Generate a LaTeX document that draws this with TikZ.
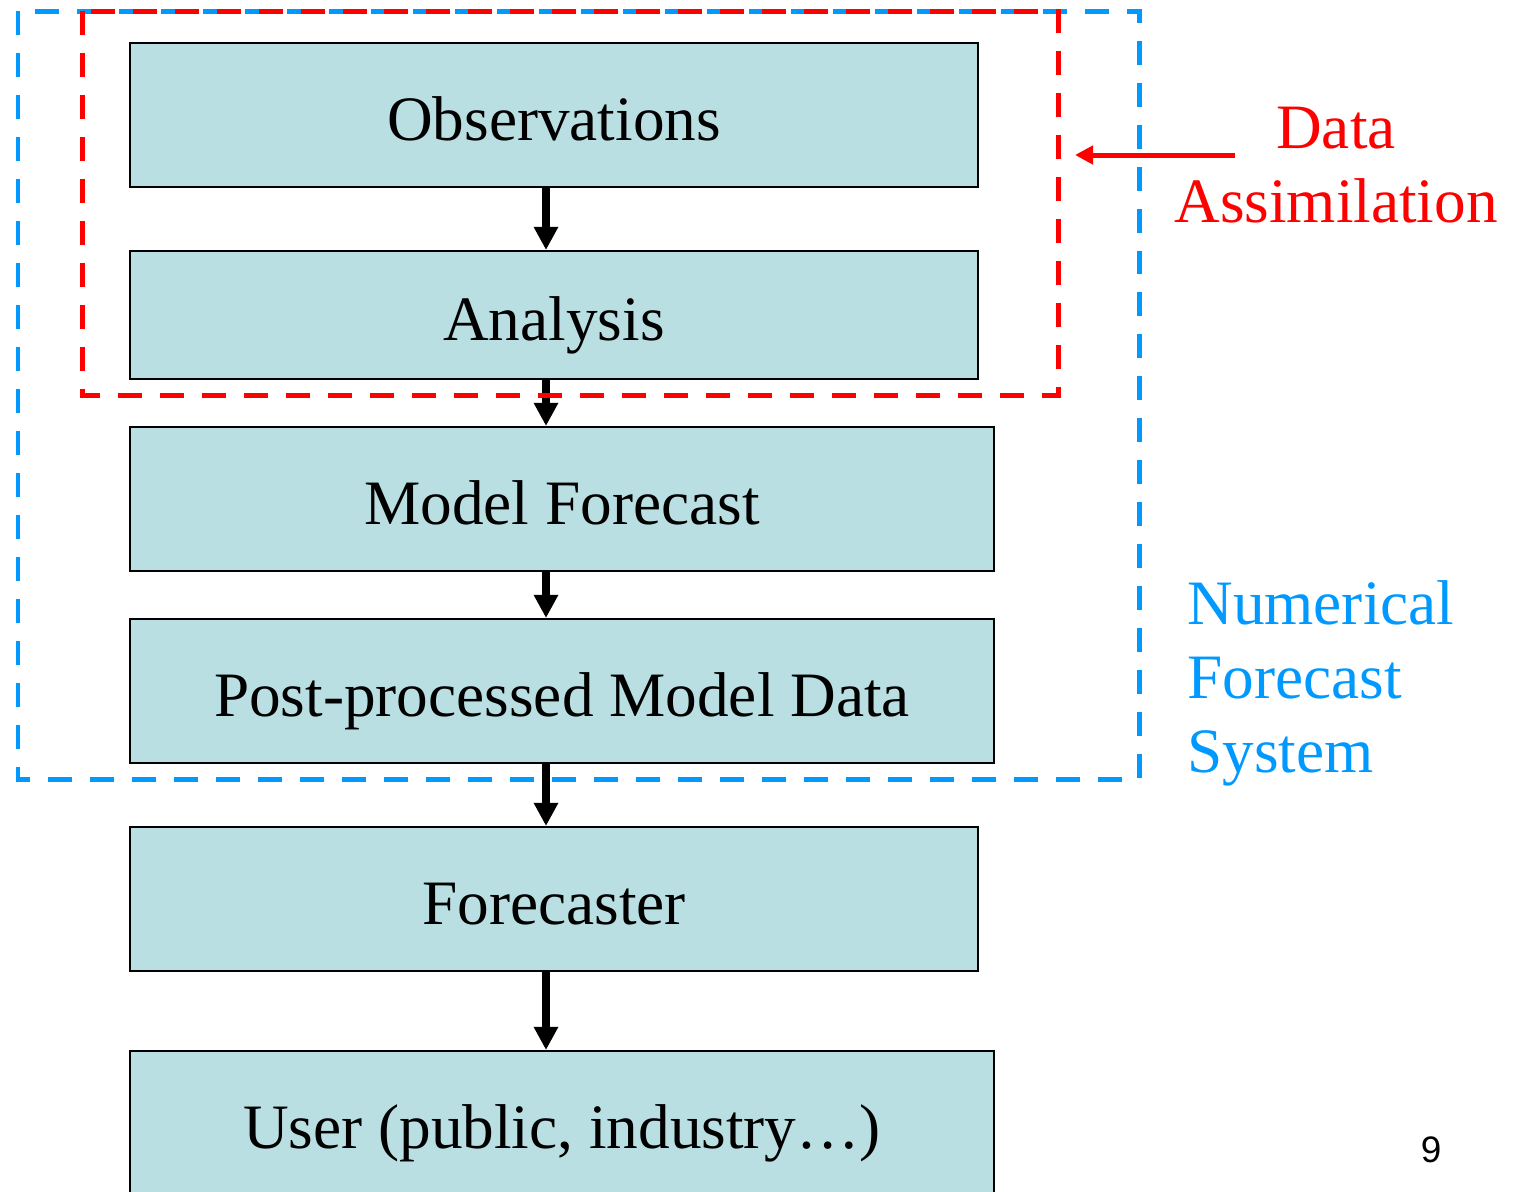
\documentclass[tikz,border=0pt]{standalone}
\usepackage{fontspec}
\setmainfont{Liberation Serif}
\newfontfamily\pagenumfont{Liberation Sans}
\usetikzlibrary{arrows.meta}

\definecolor{boxfill}{RGB}{185,223,226}
\definecolor{nfsblue}{RGB}{0,153,255}
\definecolor{dared}{RGB}{255,0,0}

\tikzset{
  stage/.style={draw=black, line width=1.2pt, fill=boxfill, inner sep=0pt,
    text height=1.0cm, text depth=0cm,
    font=\fontsize{36}{42}\selectfont},
  flow/.style={line width=0.16cm, -{Triangle[length=0.46cm, width=0.46cm]}},
  groupbox/.style={line width=0.1cm, dash pattern=on 0.48cm off 0.36cm},
  sidelabel/.style={inner sep=0pt, font=\fontsize{36}{42}\selectfont},
}

\begin{document}
\begin{tikzpicture}[x=0.02cm, y=-0.02cm]
  \useasboundingbox (0,0) rectangle (1515,1191);

  % processing chain
  \node[stage, minimum width=16.96cm, minimum height=2.88cm] (obs) at (554,115) {Observations};
  \node[stage, minimum width=16.96cm, minimum height=2.56cm] (ana) at (554,315) {Analysis};
  \node[stage, minimum width=17.28cm, minimum height=2.88cm] (mod) at (562,499) {Model Forecast};
  \node[stage, minimum width=17.28cm, minimum height=2.88cm] (post) at (562,691) {Post-processed Model Data};
  \node[stage, minimum width=16.96cm, minimum height=2.88cm] (fc) at (554,899) {Forecaster};
  \node[stage, minimum width=17.28cm, minimum height=2.88cm] (user) at (562,1123) {User (public, industry\dots)};

  % arrows down the chain, all on one vertical line
  \coordinate (ax) at (546,0);
  \draw[flow] (obs.south -| ax) -- (ana.north -| ax);
  \draw[flow] (ana.south -| ax) -- (mod.north -| ax);
  \draw[flow] (mod.south -| ax) -- (post.north -| ax);
  \draw[flow] (post.south -| ax) -- (fc.north -| ax);
  \draw[flow] (fc.south -| ax) -- (user.north -| ax);

  % numerical forecast system group
  \draw[groupbox, draw=nfsblue] (18,11) -- (18,779) -- (1139,779) -- (1139,11) -- cycle;
  % data assimilation group
  \draw[groupbox, draw=dared] (82,11) -- (82,395) -- (1058,395) -- (1058,11) -- cycle;

  % group labels (base anchor sits on the last line)
  \node[sidelabel, text=dared, align=center, anchor=base] (dalbl) at (1336,222) {Data\\Assimilation};
  \coordinate (datail) at (1235,155);
  \coordinate (datip) at (1075,155);
  \draw[dared, line width=0.1cm, -{Triangle[length=0.36cm, width=0.36cm]}] (datail) -- (datip);

  \node[sidelabel, text=nfsblue, align=left, anchor=base west] (nfslbl) at (1187,772) {Numerical\\Forecast\\System};

  % page number
  \node[inner sep=0pt, anchor=base, font=\pagenumfont\fontsize{21}{25}\selectfont] (pnum) at (1431,1162) {9};
\end{tikzpicture}
\end{document}
